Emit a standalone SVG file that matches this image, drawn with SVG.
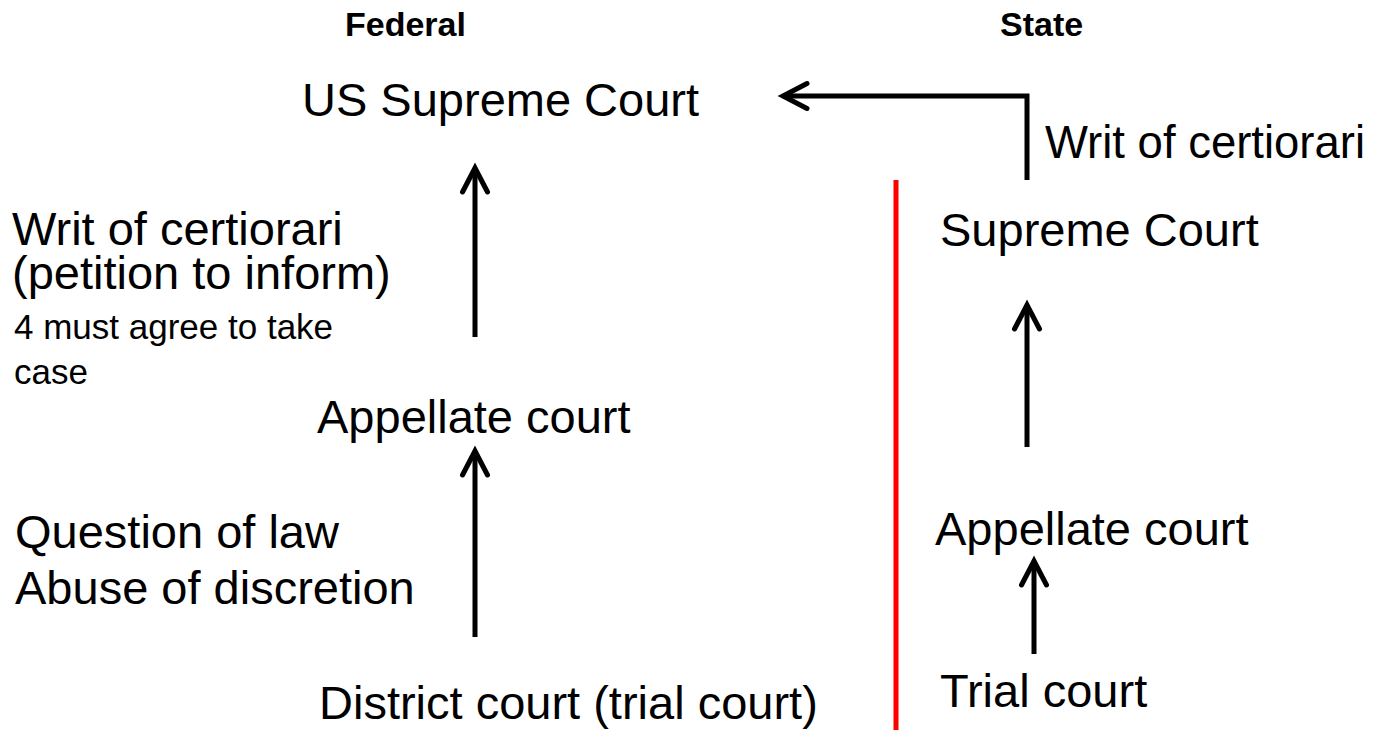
<svg xmlns="http://www.w3.org/2000/svg" width="1387" height="730" viewBox="0 0 1387 730">
<style>
text{font-family:"Liberation Sans",Arial,sans-serif;fill:#000}
.hdr{font-size:34px;font-weight:bold}
.big{font-size:47px}
.small{font-size:35px}
.conn{stroke:#000;stroke-width:5;fill:none}
</style>
<defs>
<marker id="arr" viewBox="-30 -20 40 40" markerWidth="40" markerHeight="40" refX="0" refY="0" orient="auto" markerUnits="userSpaceOnUse" overflow="visible">
<path d="M-24,-12.5 L0,0 L-24,12.5" fill="none" stroke="#000" stroke-width="5" stroke-linecap="round" stroke-linejoin="miter"/>
</marker>
</defs>
<rect width="1387" height="730" fill="#fff"/>
<g id="headers">
<text class="hdr" x="345" y="36">Federal</text>
<text class="hdr" x="1000" y="36">State</text>
</g>
<g id="divider">
<line x1="896" y1="180" x2="896" y2="730" stroke="#ff0000" stroke-width="5"/>
</g>
<g id="us-supreme-court"><text class="big" x="302" y="116">US Supreme Court</text></g>
<g id="federal-appellate"><text class="big" x="317" y="433">Appellate court</text></g>
<g id="district-court"><text class="big" x="319" y="719">District court (trial court)</text></g>
<g id="state-supreme-court"><text class="big" x="940" y="246">Supreme Court</text></g>
<g id="state-appellate"><text class="big" x="935" y="545">Appellate court</text></g>
<g id="trial-court"><text class="big" x="940" y="707">Trial court</text></g>
<g id="labels">
<text class="big" x="12" y="245">Writ of certiorari</text>
<text class="big" x="12" y="289">(petition to inform)</text>
<text class="small" x="14" y="339">4 must agree to take</text>
<text class="small" x="14" y="384">case</text>
<text class="big" x="15" y="548">Question of law</text>
<text class="big" x="15" y="604">Abuse of discretion</text>
<text class="big" x="1045" y="158" textLength="320" lengthAdjust="spacingAndGlyphs">Writ of certiorari</text>
</g>
<g id="connectors">
<line class="conn" x1="475" y1="337" x2="475" y2="168" marker-end="url(#arr)"/>
<line class="conn" x1="475" y1="637" x2="475" y2="451" marker-end="url(#arr)"/>
<line class="conn" x1="1027" y1="447" x2="1027" y2="305" marker-end="url(#arr)"/>
<line class="conn" x1="1034" y1="654" x2="1034" y2="561" marker-end="url(#arr)"/>
<polyline class="conn" points="1027,180 1027,96 783,96" marker-end="url(#arr)"/>
</g>
</svg>
